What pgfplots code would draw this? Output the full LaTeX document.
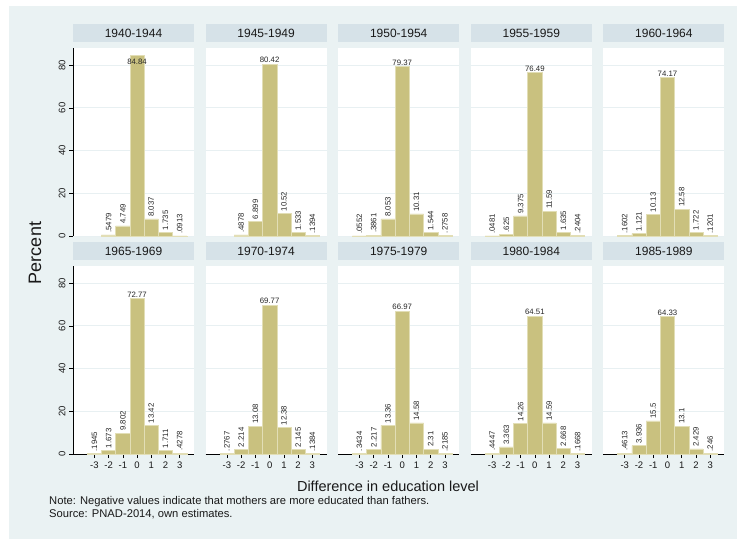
\documentclass[border=0pt]{standalone}
\usepackage{fontspec}
\setmainfont{Liberation Sans}
\usepackage{pgfplots}
\usepackage{pgfplotstable}
\pgfplotsset{compat=1.18}

\definecolor{bgcol}{RGB}{234,242,243}
\definecolor{stripcol}{RGB}{214,226,232}
\definecolor{barfill}{RGB}{201,193,127}
\definecolor{baredge}{RGB}{226,222,182}
\definecolor{gridcol}{RGB}{232,240,242}

% Distribution of the difference in education level (father - mother), by birth cohort
\pgfplotstableread[row sep=\\]{
x y lab\\
-2 0.5479 .5479\\
-1 4.749 4.749\\
0 84.84 84.84\\
1 8.037 8.037\\
2 1.735 1.735\\
3 0.0913 .0913\\
}\cohortA
\pgfplotstableread[row sep=\\]{
x y lab\\
-2 0.4878 .4878\\
-1 6.899 6.899\\
0 80.42 80.42\\
1 10.52 10.52\\
2 1.533 1.533\\
3 0.1394 .1394\\
}\cohortB
\pgfplotstableread[row sep=\\]{
x y lab\\
-3 0.0552 .0552\\
-2 0.3861 .3861\\
-1 8.053 8.053\\
0 79.37 79.37\\
1 10.31 10.31\\
2 1.544 1.544\\
3 0.2758 .2758\\
}\cohortC
\pgfplotstableread[row sep=\\]{
x y lab\\
-3 0.0481 .0481\\
-2 0.625 .625\\
-1 9.375 9.375\\
0 76.49 76.49\\
1 11.59 11.59\\
2 1.635 1.635\\
3 0.2404 .2404\\
}\cohortD
\pgfplotstableread[row sep=\\]{
x y lab\\
-3 0.1602 .1602\\
-2 1.121 1.121\\
-1 10.13 10.13\\
0 74.17 74.17\\
1 12.58 12.58\\
2 1.722 1.722\\
3 0.1201 .1201\\
}\cohortE
\pgfplotstableread[row sep=\\]{
x y lab\\
-3 0.1945 .1945\\
-2 1.673 1.673\\
-1 9.802 9.802\\
0 72.77 72.77\\
1 13.42 13.42\\
2 1.711 1.711\\
3 0.4278 .4278\\
}\cohortF
\pgfplotstableread[row sep=\\]{
x y lab\\
-3 0.2767 .2767\\
-2 2.214 2.214\\
-1 13.08 13.08\\
0 69.77 69.77\\
1 12.38 12.38\\
2 2.145 2.145\\
3 0.1384 .1384\\
}\cohortG
\pgfplotstableread[row sep=\\]{
x y lab\\
-3 0.3434 .3434\\
-2 2.217 2.217\\
-1 13.36 13.36\\
0 66.97 66.97\\
1 14.58 14.58\\
2 2.31 2.31\\
3 0.2185 .2185\\
}\cohortH
\pgfplotstableread[row sep=\\]{
x y lab\\
-3 0.4447 .4447\\
-2 3.363 3.363\\
-1 14.26 14.26\\
0 64.51 64.51\\
1 14.59 14.59\\
2 2.668 2.668\\
3 0.1668 .1668\\
}\cohortI
\pgfplotstableread[row sep=\\]{
x y lab\\
-3 0.4613 .4613\\
-2 3.936 3.936\\
-1 15.5 15.5\\
0 64.33 64.33\\
1 13.1 13.1\\
2 2.429 2.429\\
3 0.246 .246\\
}\cohortJ

\tikzset{vallabel/.style={font=\fontsize{7.8}{8.5}\selectfont, text=black!85}}

\pgfplotsset{
  panel/.style={
    scale only axis, width=121pt, height=188pt,
    anchor=south west,
    xmin=-4.5, xmax=4, ymin=0, ymax=88,
    xtick={-3,...,3}, ytick={0,20,...,80},
    axis lines=left, axis line style={-, black, line width=0.6pt},
    tick align=outside, major tick length=4pt,
    tick style={black, line width=0.6pt},
    ymajorgrids, grid style={gridcol, line width=0.8pt},
    axis background/.style={fill=white},
    title style={at={(0.5,1)}, anchor=south, fill=stripcol,
      minimum width=121pt, minimum height=17.5pt, inner sep=0pt,
      text=black!90, font=\fontsize{12}{12}\selectfont},
    /pgf/number format/assume math mode=true,
    ticklabel style={font=\fontsize{9.5}{10}\selectfont, text=black!90},
    yticklabel style={rotate=90, anchor=south},
    clip=false,
  },
  noyaxis/.style={y axis line style={draw=none}, ytick style={draw=none}, yticklabels={}},
  noxaxis/.style={x axis line style={draw=none}, xtick style={draw=none}, xticklabels={}},
  histbar/.style={ybar, bar width=1, bar shift=0pt, fill=barfill, draw=baredge,
    line width=0.5pt, point meta=explicit symbolic, nodes near coords},
}

% side bars carry rotated labels, the central bar a horizontal one
\newcommand{\cohortbars}[2]{%
  \addplot[histbar, x filter/.expression={x==0 ? nan : x},
    nodes near coords style={vallabel, rotate=90, anchor=west, inner sep=2pt}]
    table[x=x, y=y, meta=lab] {#1};
  \addplot[histbar, x filter/.expression={x==0 ? x : nan},
    nodes near coords style={vallabel, anchor=south, inner sep=1pt, #2}]
    table[x=x, y=y, meta=lab] {#1};
}

\begin{document}
\begin{tikzpicture}
\useasboundingbox (0,0) rectangle (737pt,539pt);
\fill[white] (0,0) rectangle (737pt,539pt);
\fill[bgcol] (9pt,0) rectangle (737pt,533pt);

% top row
\begin{axis}[panel, noxaxis, at={(73pt,303pt)}, title={1940-1944}]
\cohortbars{\cohortA}{anchor=north, yshift=-3pt}
\end{axis}
\begin{axis}[panel, noxaxis, noyaxis, at={(205.6pt,303pt)}, title={1945-1949}]
\cohortbars{\cohortB}{}
\end{axis}
\begin{axis}[panel, noxaxis, noyaxis, at={(338.2pt,303pt)}, title={1950-1954}]
\cohortbars{\cohortC}{}
\end{axis}
\begin{axis}[panel, noxaxis, noyaxis, at={(470.8pt,303pt)}, title={1955-1959}]
\cohortbars{\cohortD}{}
\end{axis}
\begin{axis}[panel, noxaxis, noyaxis, at={(603.4pt,303pt)}, title={1960-1964}]
\cohortbars{\cohortE}{}
\end{axis}

% bottom row
\begin{axis}[panel, at={(73pt,85pt)}, title={1965-1969}]
\cohortbars{\cohortF}{}
\end{axis}
\begin{axis}[panel, noyaxis, at={(205.6pt,85pt)}, title={1970-1974}]
\cohortbars{\cohortG}{}
\end{axis}
\begin{axis}[panel, noyaxis, at={(338.2pt,85pt)}, title={1975-1979}]
\cohortbars{\cohortH}{}
\end{axis}
\begin{axis}[panel, noyaxis, at={(470.8pt,85pt)}, title={1980-1984}]
\cohortbars{\cohortI}{}
\end{axis}
\begin{axis}[panel, noyaxis, at={(603.4pt,85pt)}, title={1985-1989}]
\cohortbars{\cohortJ}{}
\end{axis}

\node[rotate=90, font=\fontsize{18}{18}\selectfont, text=black!90] at (35pt,286pt) {Percent};
\node[font=\fontsize{14.5}{15}\selectfont, text=black!90] at (388pt,53pt) {Difference in education level};
\node[anchor=west, inner sep=0pt, font=\fontsize{11.2}{12}\selectfont, text=black!90] at (49pt,37pt)
  {Note: Negative values indicate that mothers are more educated than fathers.};
\node[anchor=west, inner sep=0pt, font=\fontsize{11.2}{12}\selectfont, text=black!90] at (49pt,25pt)
  {Source: PNAD-2014, own estimates.};
\end{tikzpicture}
\end{document}
